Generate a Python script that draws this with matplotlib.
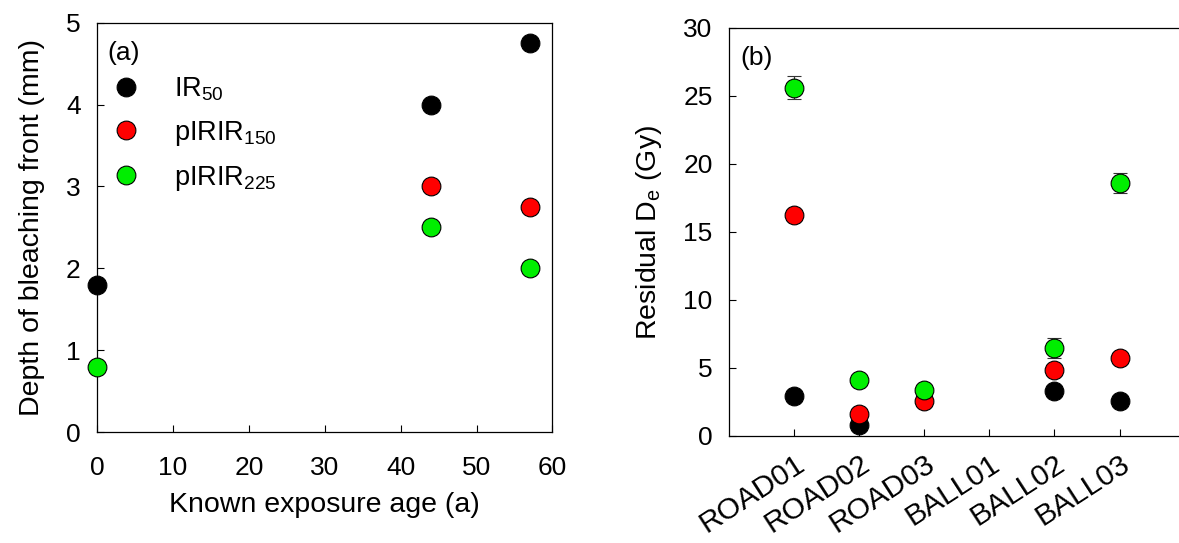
import matplotlib
matplotlib.use("Agg")
import matplotlib.pyplot as plt
import numpy as np

plt.rcParams['font.family'] = ['Liberation Sans', 'DejaVu Sans']
plt.rcParams['mathtext.fontset'] = 'custom'
plt.rcParams['mathtext.rm'] = 'Liberation Sans'
plt.rcParams['mathtext.it'] = 'Liberation Sans'
plt.rcParams['mathtext.default'] = 'regular'

# panel (a): depth of bleaching front vs known exposure age
age_ir50 = [0, 44, 57]
depth_ir50 = [1.8, 4.0, 4.75]
age_p150 = [44, 57]
depth_p150 = [3.0, 2.75]
age_p225 = [0, 44, 57]
depth_p225 = [0.8, 2.5, 2.0]

# panel (b): residual De per sample
samples = ['ROAD01', 'ROAD02', 'ROAD03', 'BALL01', 'BALL02', 'BALL03']
res_ir50 = [2.92, 0.79, np.nan, np.nan, 3.32, 2.56]
res_p150 = [16.23, 1.6, 2.54, np.nan, 4.84, 5.73]
res_p225 = [25.6, 4.13, 3.37, np.nan, 6.47, 18.6]
err_p225 = [0.85, 0, 0, 0, 0.74, 0.72]

black = '#000000'
red = '#ff0000'
green = '#00ee00'
ms = 13.5
tfs = 19   # tick labels
lfs = 20.5   # axis labels

fig = plt.figure(figsize=(11.79, 5.43), dpi=100)
ax1 = fig.add_axes([0.0825, 0.2044, 0.386, 0.7538])
ax2 = fig.add_axes([0.6186, 0.1971, 0.3861, 0.7514])

for ax in (ax1, ax2):
    for s in ax.spines.values():
        s.set_linewidth(0.9)
    ax.tick_params(direction='in', length=5, width=0.8, labelsize=tfs)
    ax.tick_params(axis='y', pad=12)

# ---- (a)
ax1.plot(age_ir50, depth_ir50, 'o', ms=ms, mfc=black, mec=black, mew=0.8,
         label='IR$_{50}$', clip_on=False, zorder=3)
ax1.plot(age_p150, depth_p150, 'o', ms=ms, mfc=red, mec=black, mew=0.8,
         label='pIRIR$_{150}$', clip_on=False, zorder=3)
ax1.plot(age_p225, depth_p225, 'o', ms=ms, mfc=green, mec=black, mew=0.8,
         label='pIRIR$_{225}$', clip_on=False, zorder=3)
ax1.set_xlim(0, 60)
ax1.set_ylim(0, 5)
ax1.set_xticks(range(0, 61, 10))
ax1.set_yticks(range(0, 6))
ax1.tick_params(axis='x', pad=17)
ax1.set_xlabel('Known exposure age (a)', fontsize=lfs, labelpad=9)
ax1.set_ylabel('Depth of bleaching front (mm)', fontsize=lfs, labelpad=15)
ax1.text(0.022, 0.955, '(a)', transform=ax1.transAxes, fontsize=tfs,
         va='top', ha='left')
ax1.legend(loc='upper left', bbox_to_anchor=(0.009, 0.897), frameon=False,
           fontsize=19.5, handletextpad=1.3, labelspacing=0.58,
           borderaxespad=0.0, handlelength=1.0)

# ---- (b)
xpos = np.arange(1, len(samples) + 1)
ax2.plot(xpos, res_ir50, 'o', ms=ms, mfc=black, mec=black, mew=0.8, zorder=3)
ax2.plot(xpos, res_p150, 'o', ms=ms, mfc=red, mec=black, mew=0.8, zorder=4)
ax2.errorbar(xpos, res_p225, yerr=err_p225, fmt='o', ms=ms, mfc=green,
             mec=black, mew=0.8, ecolor='#333333', elinewidth=0.9,
             capsize=5, capthick=0.9, zorder=5)
ax2.set_xlim(0, 7)
ax2.set_ylim(0, 30)
ax2.set_yticks(range(0, 31, 5))
ax2.set_xticks(xpos)
ax2.set_xticklabels(samples, rotation=33, ha='right', rotation_mode='anchor',
                    fontsize=21.5)
ax2.tick_params(axis='x', pad=10)
ax2.set_ylabel('Residual D$_e$ (Gy)', fontsize=lfs, labelpad=14)
ax2.text(0.025, 0.955, '(b)', transform=ax2.transAxes, fontsize=tfs,
         va='top', ha='left')

fig.savefig('out.png', dpi=100)
